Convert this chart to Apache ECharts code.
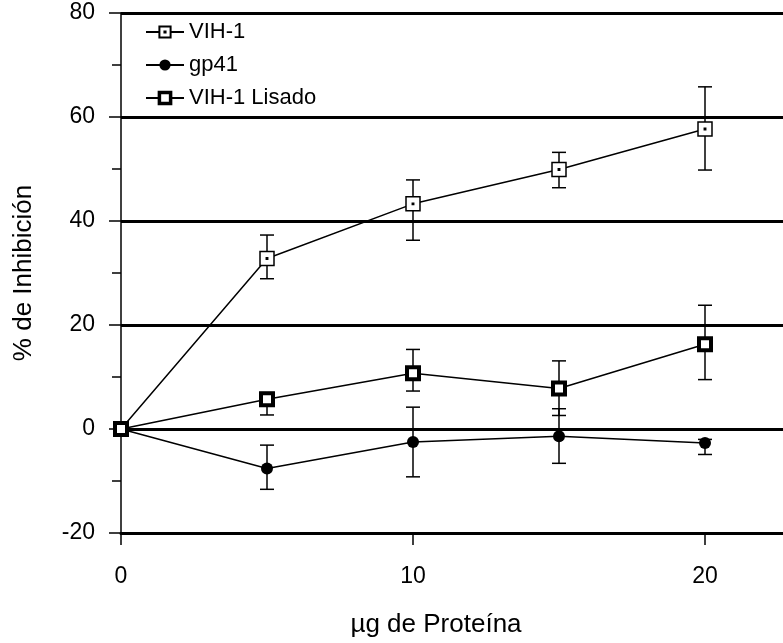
<!DOCTYPE html>
<html>
<head>
<meta charset="utf-8">
<script src="https://cdn.jsdelivr.net/npm/echarts@6/dist/echarts.min.js"></script>
<style>
  html, body { margin: 0; padding: 0; background: #fff; }
  #chart { width: 783px; height: 643px; }
</style>
</head>
<body>
<div id="chart"></div>
<script>
// ug de proteina
var doses = [0, 5, 10, 15, 20]

// VIH-1
var vihMean = [0, 32.8, 43.3, 49.9, 57.7]
var vihLow = [0, 28.9, 36.3, 46.4, 49.8]
var vihHigh = [0, 37.3, 47.9, 53.2, 65.8]

// gp41
var gp41Mean = [0, -7.6, -2.5, -1.4, -2.7]
var gp41Low = [0, -11.6, -9.2, -6.6, -4.9]
var gp41High = [0, -3.1, 4.2, 3.9, -2.0]

// VIH-1 Lisado
var lisMean = [0, 5.7, 10.7, 7.8, 16.3]
var lisLow = [0, 2.7, 7.3, 2.6, 9.5]
var lisHigh = [0, 7.0, 15.3, 13.1, 23.8]

var yTicks = [-20, 0, 20, 40, 60, 80]
var xTicks = [0, 10, 20]

var FONT = '"Liberation Sans", Arial, sans-serif'

function pairs (ys) {
  return doses.map(function (d, i) { return [d, ys[i]] })
}

// barras de error
function errorSeries (name, low, high) {
  return {
    name: name,
    type: 'custom',
    z: 1,
    silent: true,
    data: doses.map(function (d, i) { return [d, low[i], high[i]] }),
    encode: { x: 0, y: [1, 2] },
    renderItem: function (params, api) {
      if (api.value(1) === api.value(2)) return
      var lo = api.coord([api.value(0), api.value(1)])
      var hi = api.coord([api.value(0), api.value(2)])
      var x = lo[0]
      var w = 7
      var style = { stroke: '#000', lineWidth: 1.5 }
      return {
        type: 'group',
        children: [
          { type: 'line', shape: { x1: x, y1: lo[1], x2: x, y2: hi[1] }, style: style },
          { type: 'line', shape: { x1: x - w, y1: lo[1], x2: x + w, y2: lo[1] }, style: style },
          { type: 'line', shape: { x1: x - w, y1: hi[1], x2: x + w, y2: hi[1] }, style: style }
        ]
      }
    }
  }
}

var chart = echarts.init(document.getElementById('chart'))

var option = {
  animation: false,
  backgroundColor: '#fff',
  textStyle: { fontFamily: FONT, color: '#000' },
  grid: { left: 121, top: 13, width: 876, height: 520, containLabel: false, outerBoundsMode: 'none' },
  legend: {
    orient: 'vertical',
    left: 140,
    top: 16,
    itemWidth: 38,
    itemHeight: 14,
    itemGap: 11,
    textStyle: { fontSize: 22, color: '#000', fontFamily: FONT },
    data: [
      { name: 'VIH-1' },
      { name: 'gp41' },
      { name: 'VIH-1 Lisado', itemStyle: { borderWidth: 3.5 } }
    ]
  },
  xAxis: {
    type: 'value',
    min: xTicks[0],
    max: 30,
    interval: xTicks[1] - xTicks[0],
    axisLine: { show: true, onZero: false, lineStyle: { color: '#000', width: 3 } },
    axisTick: { show: true, length: 12, lineStyle: { color: '#000', width: 1.5 } },
    axisLabel: { fontSize: 23, color: '#000', margin: 32, fontFamily: FONT },
    splitLine: { show: false }
  },
  yAxis: {
    type: 'value',
    min: yTicks[0],
    max: yTicks[yTicks.length - 1],
    interval: yTicks[1] - yTicks[0],
    name: '% de Inhibición',
    nameLocation: 'middle',
    nameGap: 84,
    nameTextStyle: { fontSize: 26, color: '#000', fontFamily: FONT },
    axisLine: { show: true, onZero: false, lineStyle: { color: '#000', width: 1.5 } },
    axisTick: { show: true, length: 12, lineStyle: { color: '#000', width: 1.5 } },
    minorTick: { show: true, splitNumber: 2, length: 9, lineStyle: { color: '#000', width: 1.5 } },
    axisLabel: { fontSize: 23, color: '#000', margin: 26, fontFamily: FONT },
    splitLine: { show: true, lineStyle: { color: '#000', width: 3 } }
  },
  graphic: [
    {
      type: 'text',
      x: 436,
      y: 625,
      style: {
        text: 'µg de Proteína',
        fontSize: 26,
        fontFamily: FONT,
        fill: '#000',
        align: 'center',
        verticalAlign: 'middle',
        textAlign: 'center',
        textVerticalAlign: 'middle'
      }
    }
  ],
  series: [
    errorSeries('err VIH-1', vihLow, vihHigh),
    errorSeries('err gp41', gp41Low, gp41High),
    errorSeries('err Lisado', lisLow, lisHigh),
    {
      name: 'VIH-1',
      type: 'line',
      data: pairs(vihMean),
      symbol: 'path://M0,0H20V20H0Z M9,9H11V11H9Z',
      symbolSize: 14,
      itemStyle: { color: '#fff', borderColor: '#000', borderWidth: 1.5 },
      lineStyle: { color: '#000', width: 1.5 }
    },
    {
      name: 'gp41',
      type: 'line',
      data: pairs(gp41Mean),
      symbol: 'circle',
      symbolSize: 12,
      itemStyle: { color: '#000' },
      lineStyle: { color: '#000', width: 1.5 }
    },
    {
      name: 'VIH-1 Lisado',
      type: 'line',
      data: pairs(lisMean),
      symbol: 'rect',
      symbolSize: 12,
      itemStyle: { color: '#fff', borderColor: '#000', borderWidth: 4 },
      lineStyle: { color: '#000', width: 1.5 }
    }
  ]
}

chart.setOption(option)
</script>
</body>
</html>
